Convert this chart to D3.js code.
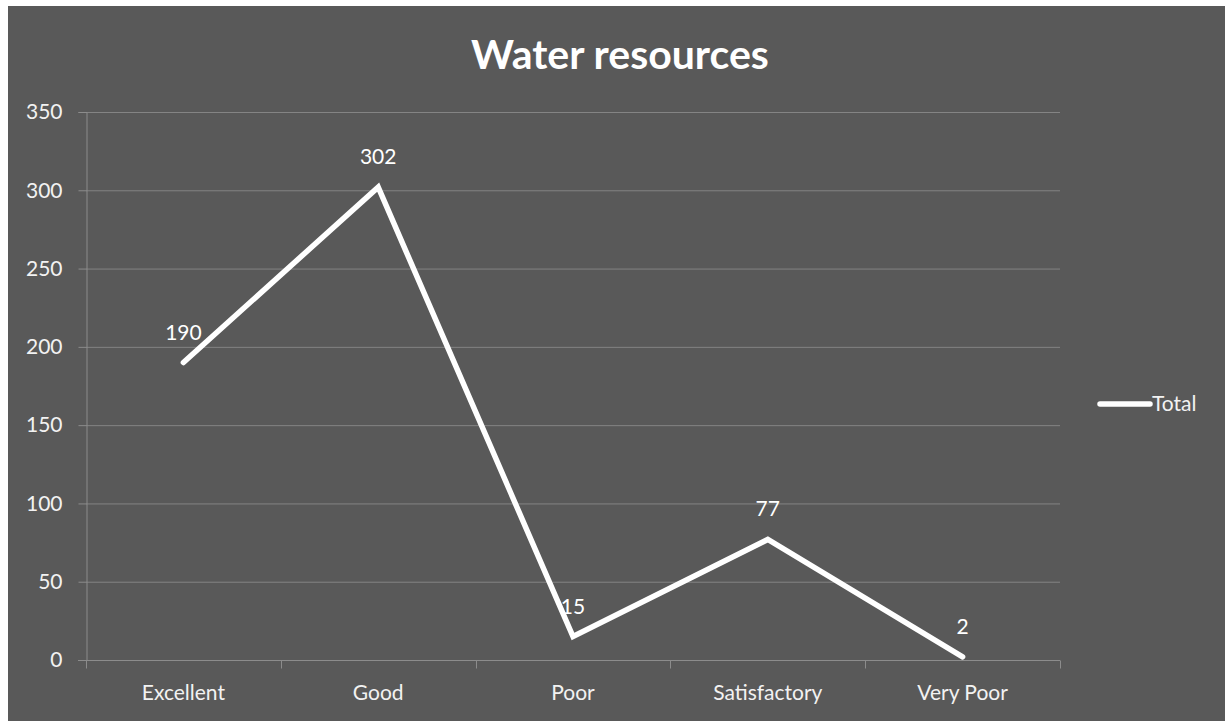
<!DOCTYPE html>
<html>
<head>
<meta charset="utf-8">
<script src="https://cdn.jsdelivr.net/npm/d3@7"></script>
<style>
  html, body { margin: 0; padding: 0; background: #fff; }
  svg { display: block; }
</style>
</head>
<body>
<svg id="chart"></svg>
<script>
const categories = ["Excellent", "Good", "Poor", "Satisfactory", "Very Poor"];
const totals = [190, 302, 15, 77, 2];
const yTicks = [0, 50, 100, 150, 200, 250, 300, 350];
const seriesName = "Total";
const title = "Water resources";

const width = 1225, height = 721;
const margin = { top: 112, right: 165, bottom: 61, left: 86 };
const font = "Lato, 'Open Sans', sans-serif";
const labelSize = "21px";

const svg = d3.select("#chart")
  .attr("width", width)
  .attr("height", height)
  .style("font-family", font);

// chart background (starts a few px in, like the screenshot)
svg.append("rect")
  .attr("x", 8).attr("y", 6)
  .attr("width", width - 8).attr("height", height - 6)
  .attr("fill", "#595959");

const x = d3.scaleBand()
  .domain(categories)
  .range([margin.left, width - margin.right]);

const y = d3.scaleLinear()
  .domain([0, 350])
  .range([height - margin.bottom, margin.top]);

// gridlines
svg.append("g")
  .selectAll("line")
  .data(yTicks.slice(1))
  .join("line")
  .attr("x1", margin.left)
  .attr("x2", width - margin.right)
  .attr("y1", d => y(d) + 0.5)
  .attr("y2", d => y(d) + 0.5)
  .attr("stroke", "#848484")
  .attr("stroke-width", 1);

// y axis
const yAxis = svg.append("g")
  .attr("transform", `translate(${margin.left + 0.5},0)`)
  .call(d3.axisLeft(y).tickValues(yTicks).tickSize(8).tickPadding(16));
yAxis.select(".domain").attr("stroke", "#8c8c8c");
yAxis.selectAll(".tick line").attr("stroke", "#8c8c8c");
yAxis.selectAll(".tick text")
  .attr("fill", "#f2f2f2")
  .style("font-size", labelSize)
  .style("font-family", font);

// x axis with ticks at band edges
const xAxis = svg.append("g")
  .attr("transform", `translate(0,${y(0) + 0.5})`);
xAxis.append("line")
  .attr("x1", margin.left - 8)
  .attr("x2", width - margin.right)
  .attr("stroke", "#8c8c8c");
const edges = categories.map(c => x(c)).concat([x.range()[1]]);
xAxis.selectAll(".edge")
  .data(edges)
  .join("line")
  .attr("class", "edge")
  .attr("x1", d => Math.round(d) + 0.5)
  .attr("x2", d => Math.round(d) + 0.5)
  .attr("y1", 0)
  .attr("y2", 8)
  .attr("stroke", "#8c8c8c");
xAxis.selectAll("text")
  .data(categories)
  .join("text")
  .attr("x", d => x(d) + x.bandwidth() / 2)
  .attr("y", 39)
  .attr("text-anchor", "middle")
  .attr("fill", "#f2f2f2")
  .style("font-size", labelSize)
  .text(d => d);

// line
const pts = categories.map((c, i) => [x(c) + x.bandwidth() / 2, y(totals[i])]);
svg.append("path")
  .datum(pts)
  .attr("d", d3.line())
  .attr("fill", "none")
  .attr("stroke", "#ffffff")
  .attr("stroke-width", 5.5)
  .attr("stroke-linejoin", "miter")
  .attr("stroke-linecap", "round");

// data labels
svg.append("g")
  .selectAll("text")
  .data(totals)
  .join("text")
  .attr("x", (d, i) => x(categories[i]) + x.bandwidth() / 2)
  .attr("y", d => y(d) - 23)
  .attr("text-anchor", "middle")
  .attr("fill", "#ffffff")
  .style("font-size", labelSize)
  .text(d => d);

// title
svg.append("text")
  .attr("x", 620)
  .attr("y", 69)
  .attr("text-anchor", "middle")
  .attr("fill", "#ffffff")
  .style("font-size", "41px")
  .style("font-weight", "bold")
  .text(title);

// legend
const legend = svg.append("g").attr("transform", "translate(1100,404)");
legend.append("line")
  .attr("x1", 0).attr("x2", 50)
  .attr("stroke", "#ffffff")
  .attr("stroke-width", 5.5)
  .attr("stroke-linecap", "round");
legend.append("text")
  .attr("x", 52)
  .attr("y", 7)
  .attr("fill", "#f2f2f2")
  .style("font-size", labelSize)
  .text(seriesName);
</script>
</body>
</html>
